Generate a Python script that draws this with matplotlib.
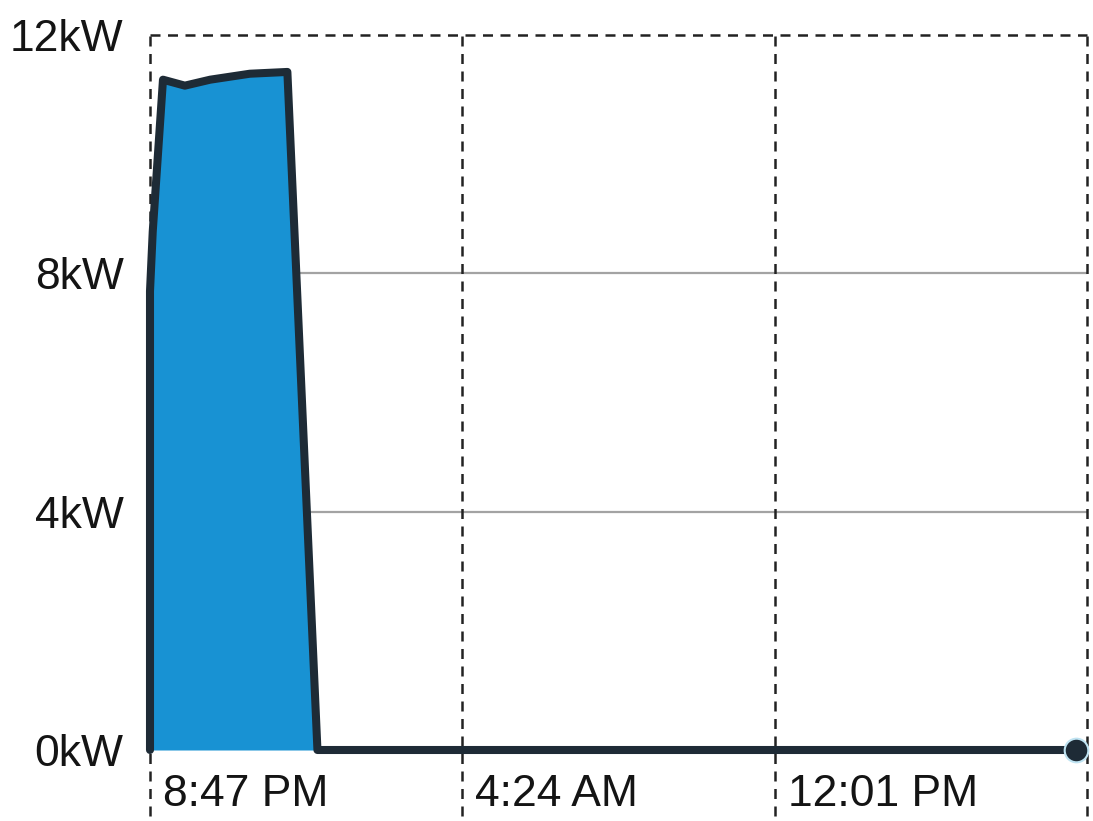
import matplotlib
matplotlib.use("Agg")
import matplotlib.pyplot as plt
from matplotlib.lines import Line2D
import matplotlib.transforms as mtransforms

# Data (minutes after 8:47 PM, kW)
times_min = [0, 0, 4, 19, 51, 88, 146, 201, 245, 1355]
power_kw = [0, 7.7, 8.7, 11.25, 11.15, 11.25, 11.35, 11.38, 0, 0]

x_ticks = [0, 457, 914, 1371]
x_tick_labels = ["8:47 PM", "4:24 AM", "12:01 PM", ""]
y_ticks = [0, 4, 8, 12]
y_tick_labels = ["0kW", "4kW", "8kW", "12kW"]

plt.rcParams['font.family'] = ['Liberation Sans', 'DejaVu Sans']

fig = plt.figure(figsize=(10.93, 8.21), dpi=100)
ax = fig.add_axes([150/1093, 71/821, 937/1093, 715/821])

ax.set_xlim(0, 1371)
ax.set_ylim(0, 12)

fill_color = "#1892d3"
line_color = "#1e2b36"

# horizontal grid
for yv in y_ticks[1:3]:
    ax.axhline(yv, color="#a3a3a3", lw=1.6, zorder=1)
ax.axhline(12, color="#222222", lw=1.8, ls=(0, (4, 3)), zorder=1, clip_on=False)

# vertical dashed grid lines extending below axes
trans = mtransforms.blended_transform_factory(ax.transData, ax.transAxes)
for xv in x_ticks:
    ax.add_line(Line2D([xv, xv], [-0.093, 1.0], transform=trans, color="#222222",
                       lw=1.8, ls=(0, (4, 3)), clip_on=False, zorder=1))

ax.fill_between(times_min, power_kw, 0, color=fill_color, lw=0, zorder=2)
ax.plot(times_min, power_kw, color=line_color, lw=5.8, solid_joinstyle="round",
        solid_capstyle="round", zorder=3, clip_on=False)
ax.plot([times_min[-1]], [power_kw[-1]], 'o', ms=17, mfc=line_color, mec="#bfe3f2",
        mew=1.5, zorder=4, clip_on=False)

for s in ax.spines.values():
    s.set_visible(False)

ax.set_yticks(y_ticks)
ax.set_yticklabels(y_tick_labels, fontsize=32, color="#141414")
ax.set_xticks(x_ticks)
ax.set_xticklabels(x_tick_labels, fontsize=32, color="#141414")
ax.tick_params(axis='y', length=0, pad=19)
ax.tick_params(axis='x', length=0, pad=17)
offset = mtransforms.ScaledTranslation(13/100, 0, fig.dpi_scale_trans)
for lbl in ax.get_xticklabels():
    lbl.set_horizontalalignment('left')
    lbl.set_transform(lbl.get_transform() + offset)

fig.savefig("out.png", dpi=100, facecolor="white")
